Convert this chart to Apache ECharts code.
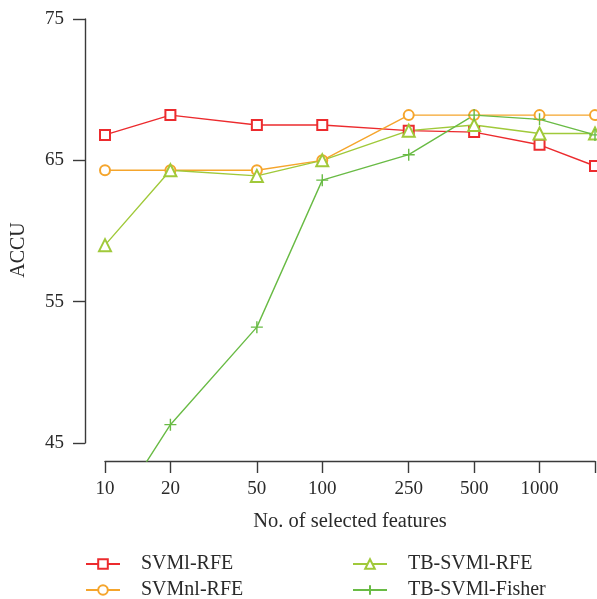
<!DOCTYPE html>
<html><head><meta charset="utf-8">
<script src="https://cdn.jsdelivr.net/npm/echarts@6/dist/echarts.min.js"></script>
<style>html,body{margin:0;padding:0;background:#fff}#c{width:597px;height:599px}</style>
</head><body><div id="c"></div>
<script>
const features = [10, 20, 50, 100, 250, 500, 1000, 1800];
const xTickLabels = ['10', '20', '50', '100', '250', '500', '1000'];
const svmlRFE = [66.8, 68.2, 67.5, 67.5, 67.1, 67.0, 66.1, 64.6];
const svmnlRFE = [64.3, 64.3, 64.3, 65.0, 68.2, 68.2, 68.2, 68.2];
const tbSvmlRFE = [59.0, 64.3, 63.9, 65.0, 67.1, 67.5, 66.9, 66.9];
const tbSvmlFisher = [39.1, 46.3, 53.2, 63.6, 65.4, 68.2, 67.9, 66.8];
const yTicks = [45, 55, 65, 75];

const FONT = 'Liberation Serif';
const TXT = '#2a2a2a';
const AX = '#3a3a3a';
const pairs = arr => features.map((f, i) => [f, arr[i]]);
const plus = 'path://M0,5L10,5M5,0L5,10';

const chart = echarts.init(document.getElementById('c'), null, {renderer: 'canvas'});
function mkSeries(name, arr, color, symbol, size) {
  return {
    name, type: 'line', xAxisIndex: 0, yAxisIndex: 0, data: pairs(arr),
    symbol, symbolSize: size, showSymbol: true, clip: true,
    lineStyle: {color, width: 1.4},
    itemStyle: {color: color, borderColor: color, borderWidth: 1.4},
    emphasis: {disabled: true}
  };
}
const legendText = {fontSize: 20, fontFamily: FONT, color: TXT, lineHeight: 20, padding: [0, 0, 0, 16]};
chart.setOption({
  animation: false,
  grid: [
    {left: 105, right: 2, top: 19, bottom: 138},
    {left: 85, right: 2, top: 19, bottom: 156}
  ],
  xAxis: [
    {
      gridIndex: 0, type: 'log', logBase: 10, min: features[0], max: features[features.length - 1],
      axisLine: {show: true, lineStyle: {color: AX, width: 1.4}},
      axisTick: {show: true, length: 12, lineStyle: {color: AX, width: 1.4}, customValues: features},
      axisLabel: {customValues: features.slice(0, xTickLabels.length),
        formatter: v => xTickLabels[features.indexOf(Math.round(v))] || '',
        margin: 19, fontSize: 19, fontFamily: FONT, color: TXT},
      minorTick: {show: false}, splitLine: {show: false},
      name: 'No. of selected features', nameLocation: 'middle', nameGap: 50,
      nameTextStyle: {fontSize: 20.5, fontFamily: FONT, color: TXT}
    },
    {gridIndex: 1, type: 'value', show: false, min: 0, max: 1}
  ],
  yAxis: [
    {gridIndex: 0, type: 'value', min: 43.73, max: 75, show: false},
    {
      gridIndex: 1, type: 'value', min: yTicks[0], max: yTicks[yTicks.length - 1], interval: 10,
      axisLine: {show: true, lineStyle: {color: AX, width: 1.4}},
      axisTick: {show: true, length: 12, lineStyle: {color: AX, width: 1.4}},
      axisLabel: {margin: 21, fontSize: 19, fontFamily: FONT, color: TXT},
      splitLine: {show: false},
      name: 'ACCU', nameLocation: 'middle', nameGap: 56,
      nameTextStyle: {fontSize: 20, fontFamily: FONT, color: TXT, padding: [0, 38, 0, 0]}
    }
  ],
  legend: [
    {data: ['SVMl-RFE', 'SVMnl-RFE'], orient: 'vertical', left: 85, top: 554, height: 60, padding: 0,
     itemWidth: 34, itemHeight: 12, itemGap: 6, textStyle: legendText},
    {data: ['TB-SVMl-RFE', 'TB-SVMl-Fisher'], orient: 'vertical', left: 352, top: 554, height: 60, padding: 0,
     itemWidth: 34, itemHeight: 12, itemGap: 6, textStyle: legendText}
  ],
  series: [
    mkSeries('SVMl-RFE', svmlRFE, '#EC2B2E', 'emptyRect', 10),
    mkSeries('SVMnl-RFE', svmnlRFE, '#F5A52C', 'emptyCircle', 10),
    mkSeries('TB-SVMl-RFE', tbSvmlRFE, '#A0C93A', 'emptyTriangle', 12),
    mkSeries('TB-SVMl-Fisher', tbSvmlFisher, '#69BB45', plus, 12)
  ]
});
</script></body></html>
